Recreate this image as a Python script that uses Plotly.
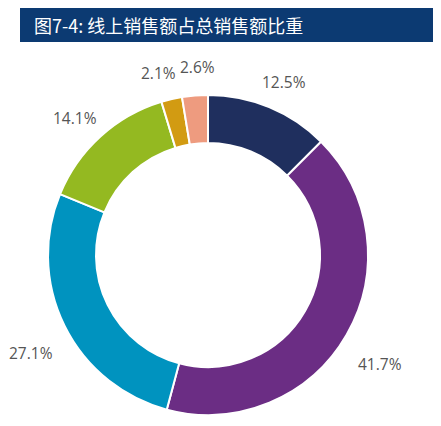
import math
import plotly.graph_objects as go

# slice data, clockwise from 12 o'clock
categories = ["类别1", "类别2", "类别3", "类别4", "类别5", "类别6"]
shares = [12.5, 41.7, 27.1, 14.1, 2.1, 2.6]
share_labels = ["12.5%", "41.7%", "27.1%", "14.1%", "2.1%", "2.6%"]
colors = ["#1F2F5E", "#6B2D84", "#0093BF", "#94B921", "#D29B12", "#EE9B7F"]

# page has an 8px body margin, so the figure starts at (8, 8)
OFF = 8
W, H = 441 - OFF, 426 - OFF

# donut placement in page pixels
cx, cy, r = 208 - OFF, 255 - OFF, 160
label_r = 198
label_dy = 10


def fx(px):
    return px / W


def fy(py):
    return 1 - py / H


fig = go.Figure()
fig.add_trace(go.Pie(
    labels=categories,
    values=shares,
    hole=0.70,
    sort=False,
    direction="clockwise",
    rotation=0,
    marker=dict(colors=colors, line=dict(color="white", width=2)),
    textinfo="none",
    hoverinfo="label+percent",
    domain=dict(x=[fx(cx - r), fx(cx + r)], y=[fy(cy + r), fy(cy - r)]),
    showlegend=False,
))

# middle angle of each slice (degrees clockwise from top)
total = sum(shares)
angles = []
start = 0
for val in shares:
    angles.append((start + val / 2) / total * 360)
    start += val


def label_box(a, txt):
    t = math.radians(a)
    x = cx + label_r * math.sin(t)
    y = cy - label_r * math.cos(t) + label_dy
    w = len(txt) * 8.5
    return x, y, w, 18


# spread neighbouring labels apart along the circle when they collide
for _ in range(60):
    moved = False
    for i in range(len(angles) - 1):
        x1, y1, w1, h1 = label_box(angles[i], share_labels[i])
        x2, y2, w2, h2 = label_box(angles[i + 1], share_labels[i + 1])
        if abs(x1 - x2) < (w1 + w2) / 2 + 4 and abs(y1 - y2) < (h1 + h2) / 2:
            angles[i] -= 0.5
            angles[i + 1] += 0.5
            moved = True
    if not moved:
        break

for a, txt in zip(angles, share_labels):
    x, y, _, _ = label_box(a, txt)
    fig.add_annotation(
        x=fx(x), y=fy(y), xref="paper", yref="paper",
        xanchor="center", yanchor="middle",
        text=txt, showarrow=False,
        font=dict(family="Open Sans", size=15.5, color="#555555"),
    )

# title bar
fig.add_shape(type="rect", xref="paper", yref="paper",
              x0=fx(20 - OFF), x1=1, y0=fy(42 - OFF), y1=fy(8 - OFF),
              fillcolor="#0C3A72", line=dict(width=0), layer="below")
fig.add_annotation(
    x=fx(32 - OFF), y=fy(25 - OFF), xref="paper", yref="paper",
    xanchor="left", yanchor="middle", showarrow=False,
    text="图7-4: 线上销售额占总销售额比重",
    font=dict(family="Noto Sans CJK SC", size=18, color="white"),
)

fig.update_layout(
    width=W, height=H,
    margin=dict(l=0, r=0, t=0, b=0),
    paper_bgcolor="white",
    plot_bgcolor="white",
)

fig.write_html("out.html")
